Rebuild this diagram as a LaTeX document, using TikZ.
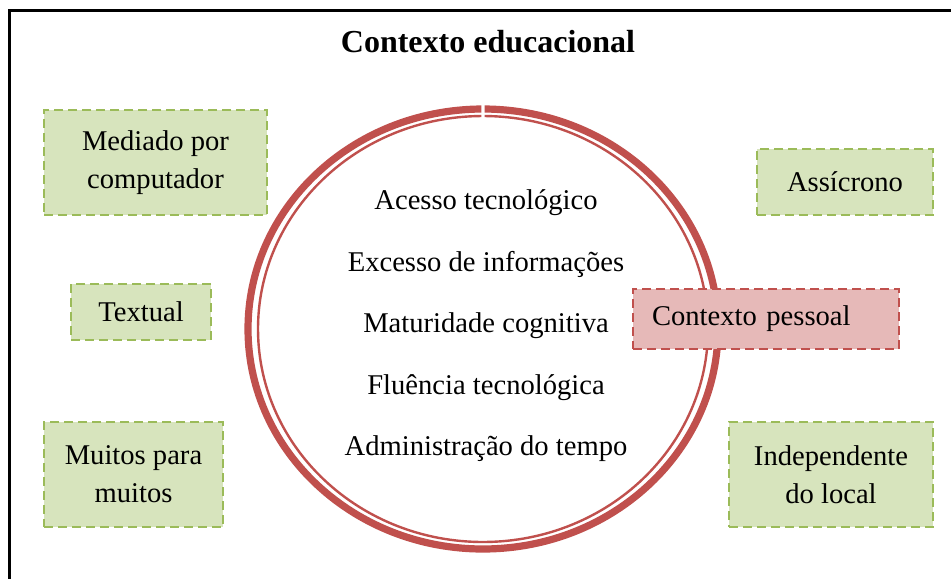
\documentclass[tikz,border=0pt]{standalone}
\usepackage{fontspec}
\setmainfont{Liberation Serif}
\usetikzlibrary{positioning}
\definecolor{boxgreen}{HTML}{D7E4BD}
\definecolor{linegreen}{HTML}{9BBB59}
\definecolor{boxred}{HTML}{E6B9B8}
\definecolor{linered}{HTML}{C0504D}

\begin{document}
\begin{tikzpicture}[x=0.5pt,y=-0.5pt,node distance=30.75pt,
    every node/.style={font=\fontsize{14.3}{19}\selectfont},
    mode node/.style={draw=linegreen,fill=boxgreen,line width=1.3pt,
                      dash pattern=on 4.5pt off 2.5pt,align=center,inner sep=0pt},
    self node/.style={draw=linered,fill=boxred,line width=1.3pt,
                      dash pattern=on 4.5pt off 2.5pt,align=left,
                      text width=114pt,inner xsep=9.5pt,minimum height=30pt},
    issue node/.style={anchor=center}]

  \useasboundingbox (0,0) rectangle (951,578);
  \begin{scope}
    \clip (0,0) rectangle (951,578);
    \draw[line width=1.1pt] (9.5,600) |- (980,10.5);
  \end{scope}

  \node[font=\fontsize{16}{19}\selectfont\bfseries] (title) at (488,42) {Contexto educacional};

  % the ring
  \coordinate (ring) at (483,329);
  \draw[linered,line width=3.6pt] ([shift={(90.4:117.5pt and 110pt)}]ring)
    arc[start angle=90.4,end angle=449.6,x radius=117.5pt,y radius=110pt];
  \draw[linered,line width=1.2pt] ([shift={(90.4:112.5pt and 106.5pt)}]ring)
    arc[start angle=90.4,end angle=449.6,x radius=112.5pt,y radius=106.5pt];

  \node[issue node] (acesso) at (486,203) {Acesso tecnológico};
  \node[issue node] (excesso) [below of=acesso] {Excesso de informações};
  \node[issue node] (maturidade) [below of=excesso] {Maturidade cognitiva};
  \node[issue node] (fluencia) [below of=maturidade] {Fluência tecnológica};
  \node[issue node] (tempo) [below of=fluencia] {Administração do tempo};

  \node[mode node,minimum width=111.5pt,minimum height=52.5pt] (mediado) at (155.5,162.5) {Mediado por\\computador};
  \node[mode node,minimum width=70pt,minimum height=28pt] (textual) at (141,312) {Textual};
  \node[mode node,minimum width=89.5pt,minimum height=52.5pt] (muitos) at (133.5,474.5) {Muitos para\\muitos};
  \node[mode node,minimum width=88pt,minimum height=33pt] (assincrono) at (845,182) {Assícrono};
  \node[mode node,minimum width=102pt,minimum height=52.5pt] (local) at (831,474.5) {Independente\\do local};

  \node[self node] (pessoal) at (766,319) {Contexto pessoal};
\end{tikzpicture}
\end{document}
